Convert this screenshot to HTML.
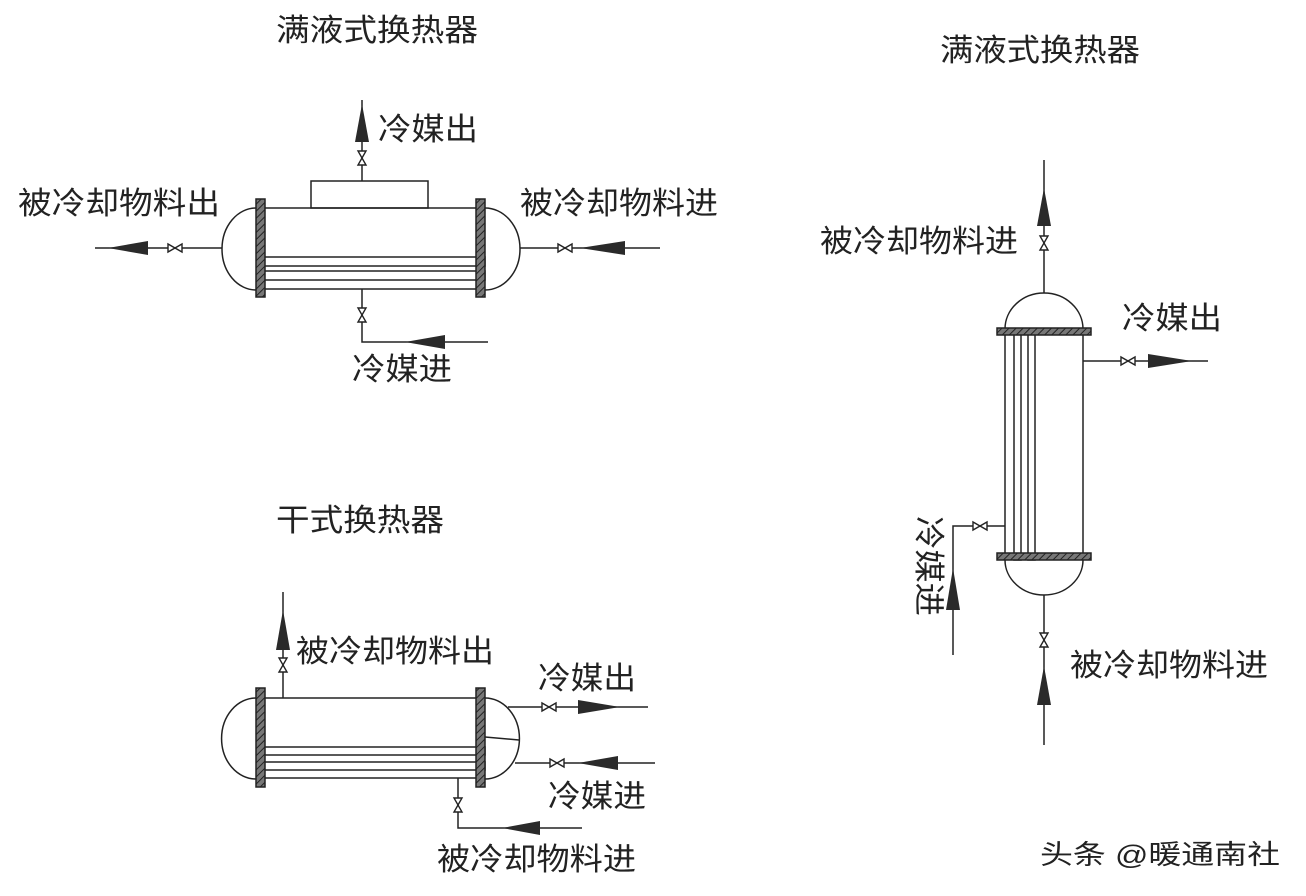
<!DOCTYPE html>
<html><head><meta charset="utf-8"><style>
html,body{margin:0;padding:0;background:#fff}
svg{display:block}
text{font-family:"Liberation Sans","Noto Sans CJK SC",sans-serif;fill:#222;font-size:31px}
</style></head><body>
<svg width="1306" height="896" viewBox="0 0 1306 896" xmlns="http://www.w3.org/2000/svg">
<defs>
<pattern id="h" width="5" height="5" patternUnits="userSpaceOnUse" patternTransform="rotate(45)">
<rect width="5" height="5" fill="#777"/><line x1="0" y1="0" x2="0" y2="5" stroke="#222" stroke-width="2"/>
</pattern>
</defs>
<g fill="none" stroke="#222" stroke-width="1.5">
<!-- Top-left flooded -->
<rect x="311" y="181" width="117" height="27" fill="#fff"/>
<line x1="265" y1="208" x2="476" y2="208"/>
<line x1="265" y1="289" x2="476" y2="289"/>
<path d="M256 208 A34 41 0 0 0 256 290"/>
<path d="M485 208 A35 41 0 0 1 485 290"/>
<rect x="257" y="257" width="228" height="9" fill="#fff"/>
<rect x="257" y="271" width="228" height="9" fill="#fff"/>
<rect x="256" y="199" width="9" height="98" fill="url(#h)"/>
<rect x="476" y="199" width="9" height="98" fill="url(#h)"/>
<line x1="362" y1="181" x2="362" y2="100"/>
<line x1="95" y1="248" x2="222" y2="248"/>
<line x1="520" y1="248" x2="660" y2="248"/>
<polyline points="362,289 362,342 488,342"/>
<!-- Right vertical -->
<line x1="1005" y1="335" x2="1005" y2="553"/>
<line x1="1083" y1="335" x2="1083" y2="553"/>
<path d="M1005 329 A39 36 0 0 1 1083 329"/>
<path d="M1005 560 A39 35 0 0 0 1083 560"/>
<rect x="1014" y="329" width="7" height="231" fill="#fff"/>
<rect x="1028" y="329" width="7" height="231" fill="#fff"/>
<rect x="997" y="328" width="94" height="7" fill="url(#h)"/>
<rect x="997" y="553" width="94" height="7" fill="url(#h)"/>
<line x1="1044" y1="293" x2="1044" y2="160"/>
<line x1="1044" y1="595" x2="1044" y2="745"/>
<line x1="1083" y1="361" x2="1208" y2="361"/>
<polyline points="1005,526 953,526 953,655"/>
<!-- Bottom-left dry -->
<line x1="265" y1="698" x2="476" y2="698"/>
<line x1="265" y1="778" x2="476" y2="778"/>
<path d="M256 698 A34 40 0 0 0 256 779"/>
<path d="M485 698 A34 40 0 0 1 485 779"/>
<line x1="485" y1="737" x2="519" y2="740"/>
<rect x="257" y="747" width="228" height="8" fill="#fff"/>
<rect x="257" y="762" width="228" height="8" fill="#fff"/>
<rect x="256" y="688" width="9" height="99" fill="url(#h)"/>
<rect x="476" y="688" width="9" height="99" fill="url(#h)"/>
<line x1="283" y1="698" x2="283" y2="592"/>
<line x1="508" y1="707" x2="648" y2="707"/>
<line x1="515" y1="763" x2="655" y2="763"/>
<polyline points="458,778 458,828 582,828"/>
</g>
<!-- valves -->
<g fill="#fff" stroke="#222" stroke-width="1.4">
<polygon points="358,151 366,151 358,165 366,165"/>
<polygon points="168,244 168,252 182,244 182,252"/>
<polygon points="558,244 558,252 572,244 572,252"/>
<polygon points="358,308 366,308 358,322 366,322"/>
<polygon points="1040,236 1048,236 1040,250 1048,250"/>
<polygon points="1040,633 1048,633 1040,647 1048,647"/>
<polygon points="1121,357 1121,365 1135,357 1135,365"/>
<polygon points="973,522 973,530 987,522 987,530"/>
<polygon points="279,658 287,658 279,672 287,672"/>
<polygon points="542,703 542,711 556,703 556,711"/>
<polygon points="550,759 550,767 564,759 564,767"/>
<polygon points="454,798 462,798 454,812 462,812"/>
</g>
<!-- arrows -->
<g fill="#2a2a2a">
<polygon points="362,104 355,142 369,142"/>
<polygon points="108,248 148,241 148,255"/>
<polygon points="580,248 625,241 625,255"/>
<polygon points="405,342 445,335 445,349"/>
<polygon points="1044,188 1037,226 1051,226"/>
<polygon points="1044,666 1037,705 1051,705"/>
<polygon points="1192,361 1148,354 1148,368"/>
<polygon points="953,568 946,610 960,610"/>
<polygon points="283,610 276,650 290,650"/>
<polygon points="620,707 578,700 578,714"/>
<polygon points="578,763 618,756 618,770"/>
<polygon points="502,828 540,821 540,835"/>
</g>
<!-- labels -->
<text x="276" y="41" textLength="202" lengthAdjust="spacingAndGlyphs">满液式换热器</text>
<text x="378" y="140" textLength="100" lengthAdjust="spacingAndGlyphs">冷媒出</text>
<text x="18" y="214" textLength="202" lengthAdjust="spacingAndGlyphs">被冷却物料出</text>
<text x="520" y="214" textLength="198" lengthAdjust="spacingAndGlyphs">被冷却物料进</text>
<text x="352" y="380" textLength="100" lengthAdjust="spacingAndGlyphs">冷媒进</text>
<text x="940" y="61" textLength="200" lengthAdjust="spacingAndGlyphs">满液式换热器</text>
<text x="820" y="252" textLength="198" lengthAdjust="spacingAndGlyphs">被冷却物料进</text>
<text x="1122" y="329" textLength="100" lengthAdjust="spacingAndGlyphs">冷媒出</text>
<text x="1070" y="676" textLength="198" lengthAdjust="spacingAndGlyphs">被冷却物料进</text>
<text transform="translate(918,516) rotate(90)" textLength="100" lengthAdjust="spacingAndGlyphs">冷媒进</text>
<text x="276" y="531" textLength="168" lengthAdjust="spacingAndGlyphs">干式换热器</text>
<text x="296" y="662" textLength="198" lengthAdjust="spacingAndGlyphs">被冷却物料出</text>
<text x="538" y="689" textLength="98" lengthAdjust="spacingAndGlyphs">冷媒出</text>
<text x="548" y="807" textLength="98" lengthAdjust="spacingAndGlyphs">冷媒进</text>
<text x="437" y="870" textLength="199" lengthAdjust="spacingAndGlyphs">被冷却物料进</text>
<text x="1040" y="864" style="font-size:27px" textLength="240" lengthAdjust="spacingAndGlyphs">头条 @暖通南社</text>
</svg>
</body></html>
